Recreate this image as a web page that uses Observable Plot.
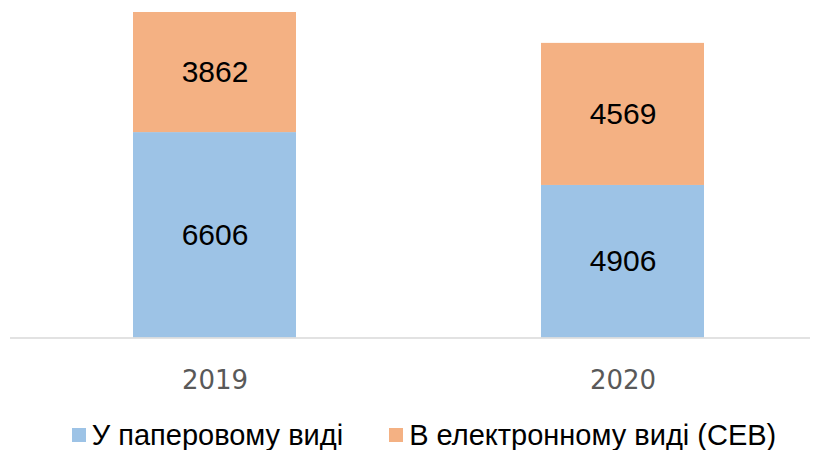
<!DOCTYPE html>
<html>
<head>
<meta charset="utf-8">
<script src="https://cdn.jsdelivr.net/npm/d3@7"></script>
<script src="https://cdn.jsdelivr.net/npm/@observablehq/plot@0.6"></script>
<style>
  body { margin: 0; background: #fff; font-family: "Liberation Sans", Arial, sans-serif; }
  #legend { height: 40px; display: flex; justify-content: center; align-items: center; padding-left: 32px; box-sizing: border-box; padding-top: 10px; }
  .item { display: flex; align-items: center; font-size: 29px; color: #000; }
  .sw { width: 14px; height: 14px; margin-right: 6px; }
</style>
</head>
<body>
<div id="chart"></div>
<div id="legend"></div>
<script>
const years = ["2019", "2020"];
const seriesNames = ["У паперовому виді", "В електронному виді (СЕВ)"];
const paper = [6606, 4906];
const electronic = [3862, 4569];
const colors = ["#9dc3e6", "#f4b183"];

const data = [];
years.forEach((y, i) => {
  data.push({year: y, series: seriesNames[0], value: paper[i]});
  data.push({year: y, series: seriesNames[1], value: electronic[i]});
});
const maxTotal = d3.max(years.map((y, i) => paper[i] + electronic[i]));

const chart = Plot.plot({
  width: 816,
  height: 410,
  marginTop: 12,
  marginBottom: 72.5,
  marginLeft: 10,
  marginRight: 6,
  x: {domain: years, range: [10.5, 826.5], paddingInner: 0.6, paddingOuter: 0.3, label: null},
  y: {domain: [0, maxTotal], axis: null},
  color: {domain: seriesNames, range: colors},
  marks: [
    Plot.barY(data, {x: "year", y: "value", fill: "series", order: seriesNames}),
    Plot.text(data, Plot.stackY({x: "year", y: "value", z: "series", order: seriesNames, text: d => String(d.value), fontSize: 30, fill: "#000", fontFamily: "Liberation Sans, Arial, sans-serif"})),
    Plot.ruleY([0], {stroke: "#d9d9d9", strokeWidth: 1.5}),
    Plot.axisX({tickSize: 0, tickPadding: 33, fontSize: 26, fill: "#595959", fontFamily: "DejaVu Sans, sans-serif", label: null})
  ],
  style: {background: "#fff", overflow: "visible"}
});
document.getElementById("chart").appendChild(chart);

const legend = document.getElementById("legend");
seriesNames.forEach((name, i) => {
  const it = document.createElement("div");
  it.className = "item";
  if (i > 0) it.style.marginLeft = "46px";
  const sw = document.createElement("span");
  sw.className = "sw";
  sw.style.background = colors[i];
  const t = document.createElement("span");
  t.textContent = name;
  it.appendChild(sw);
  it.appendChild(t);
  legend.appendChild(it);
});
</script>
</body>
</html>
